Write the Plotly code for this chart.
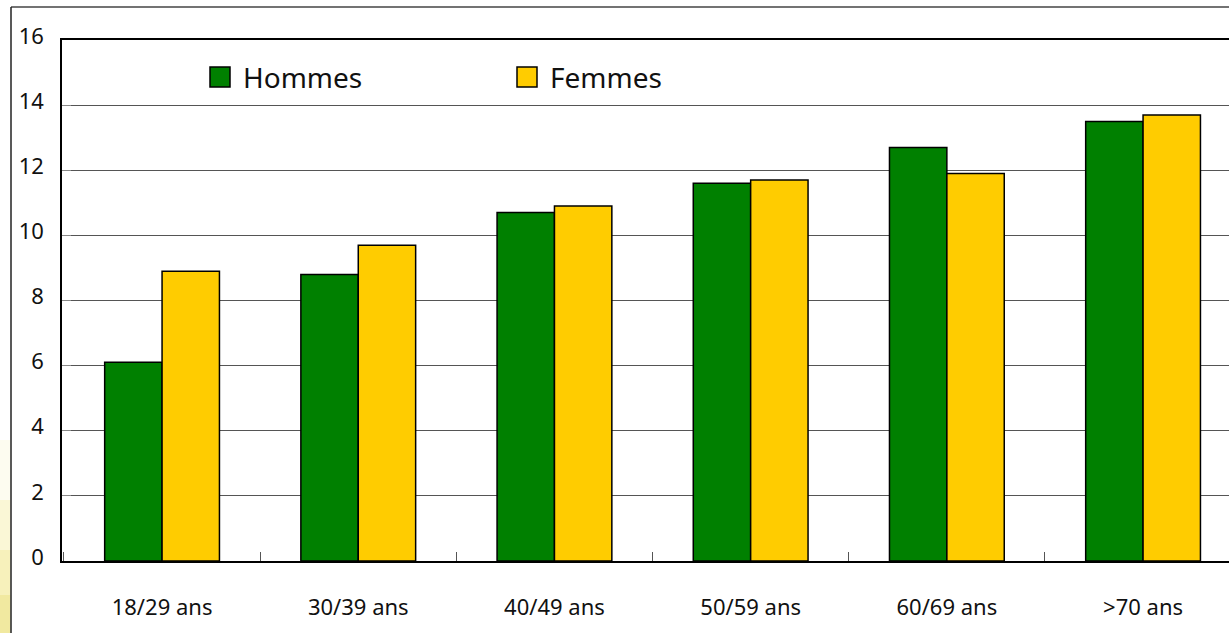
import plotly.graph_objects as go

# Age groups and values per sex
categories = ["18/29 ans", "30/39 ans", "40/49 ans", "50/59 ans", "60/69 ans", ">70 ans"]
hommes = [6.1, 8.8, 10.7, 11.6, 12.7, 13.5]
femmes = [8.9, 9.7, 10.9, 11.7, 11.9, 13.7]
y_ticks = [0, 2, 4, 6, 8, 10, 12, 14, 16]

GREEN = "#008000"
YELLOW = "#FFCC00"
FONT = "Noto Sans"

W, H = 1229, 633
L, R, T, B = 62, 0, 40, 72
PW, PH = W - L - R, H - T - B


def px_x(x):
    return (x - L) / PW


def px_y(y):
    return (H - B - y) / PH


fig = go.Figure()
fig.add_trace(go.Bar(name="Hommes", x=categories, y=hommes,
                     marker=dict(color=GREEN, line=dict(color="#000000", width=1.5))))
fig.add_trace(go.Bar(name="Femmes", x=categories, y=femmes,
                     marker=dict(color=YELLOW, line=dict(color="#000000", width=1.5))))

shapes = []
# soft yellow wash at the lower left edge
for y0, y1, col in [(440, 500, "#fdfcf0"), (500, 550, "#faf7d6"),
                    (550, 595, "#f7f1bb"), (595, 633, "#f1e9a0")]:
    shapes.append(dict(type="rect", xref="paper", yref="paper",
                       x0=px_x(0), x1=px_x(10.5), y0=px_y(y1), y1=px_y(y0),
                       fillcolor=col, line=dict(width=0), layer="below"))
# outer frame
shapes.append(dict(type="line", xref="paper", yref="paper",
                   x0=px_x(11), x1=px_x(1240), y0=px_y(7), y1=px_y(7),
                   line=dict(color="#444444", width=1.5)))
shapes.append(dict(type="line", xref="paper", yref="paper",
                   x0=px_x(11), x1=px_x(11), y0=px_y(7), y1=px_y(640),
                   line=dict(color="#222222", width=1.5)))

# legend boxes and labels
annotations = []
for name, col, sx in [("Hommes", GREEN, 210), ("Femmes", YELLOW, 517)]:
    shapes.append(dict(type="rect", xref="paper", yref="paper",
                       x0=px_x(sx), x1=px_x(sx + 20), y0=px_y(87), y1=px_y(67),
                       fillcolor=col, line=dict(color="#000000", width=1.5)))
    annotations.append(dict(text=name, xref="paper", yref="paper",
                            x=px_x(sx + 31), y=px_y(77), xanchor="left", yanchor="middle",
                            showarrow=False, font=dict(family=FONT, size=28, color="#111111")))

fig.update_layout(
    width=W, height=H,
    margin=dict(l=L, r=R, t=T, b=B),
    paper_bgcolor="#ffffff", plot_bgcolor="#ffffff",
    barmode="group", bargap=0.415, bargroupgap=0,
    showlegend=False,
    shapes=shapes, annotations=annotations,
    font=dict(family=FONT, color="#111111"),
)
fig.update_xaxes(
    range=[-0.51, 5.438], showgrid=False,
    showline=True, linecolor="#000000", linewidth=1.5, mirror=True,
    ticks="inside", tickson="boundaries", ticklen=9, tickcolor="#555555", tickwidth=1,
    tickfont=dict(family=FONT, size=22, color="#111111"),
    ticklabelstandoff=26,
)
fig.update_yaxes(
    range=[0, 16], tickvals=y_ticks,
    showgrid=True, gridcolor="#555555", gridwidth=1,
    showline=True, linecolor="#000000", linewidth=1.5,
    ticks="inside", ticklen=9, tickcolor="#888888",
    tickfont=dict(family=FONT, size=22, color="#111111"),
    ticklabelstandoff=12, ticklabelshift=-4,
    zeroline=False,
)

fig.write_html("out.html")
